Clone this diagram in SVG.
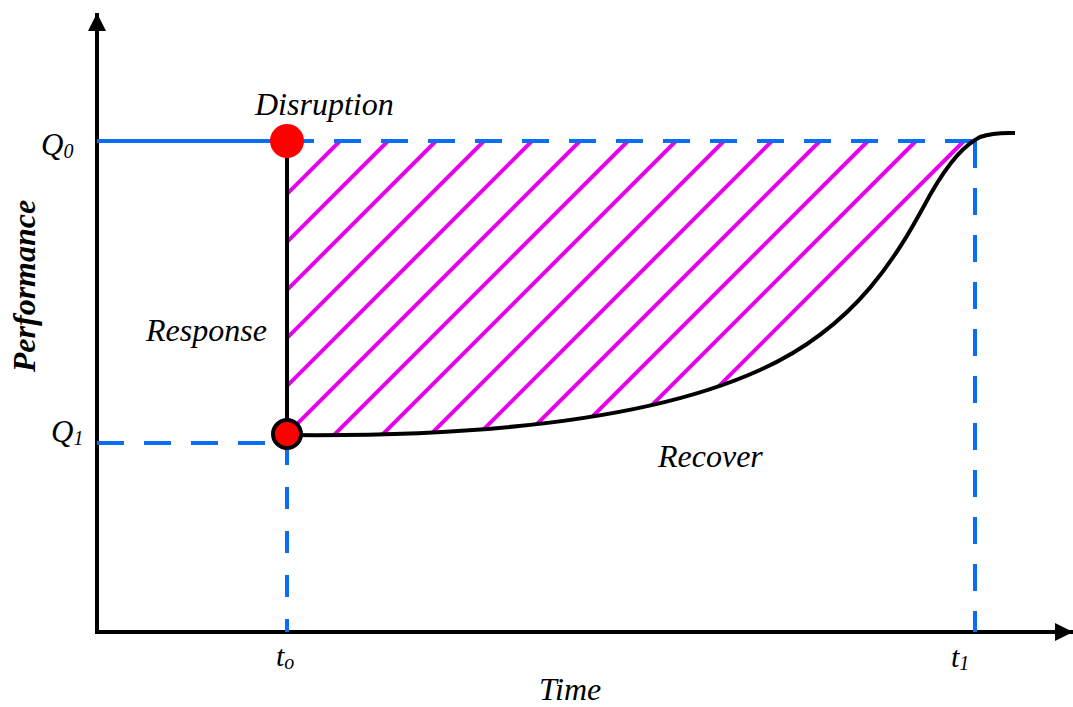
<svg xmlns="http://www.w3.org/2000/svg" width="1073" height="707" viewBox="0 0 1073 707">
<style>
.lbl{font-family:"Liberation Serif","Times New Roman",serif;font-style:italic;fill:#000}
.axis{stroke:#000;stroke-width:4;fill:none}
.dash{stroke:#0a6ef2;stroke-width:4;fill:none;stroke-dasharray:27 20}
.hatch{stroke:#e600ec;stroke-width:4;fill:none}
.curve{stroke:#000;stroke-width:4;fill:none}
</style>
<defs>
<marker id="arr" viewBox="0 0 10 10" refX="10" refY="5" markerWidth="4.5" markerHeight="4.5" markerUnits="strokeWidth" orient="auto">
<path d="M0,0 L10,5 L0,10 Z" fill="#000"/>
</marker>
<clipPath id="region">
<path d="M287,435 C480,437 650,420 760,370 C860,325 900,250 930,195 C950,160 965,145 980,137 L1015,141 L287,141 Z"/>
</clipPath>
</defs>
<g id="axes">
<line class="axis" x1="97" y1="634" x2="97" y2="13" marker-end="url(#arr)"/>
<line class="axis" x1="95" y1="632" x2="1073" y2="632" marker-end="url(#arr)"/>
</g>
<g id="hatch" clip-path="url(#region)">
<path class="hatch" d="M340,141 l-400,400 M388,141 l-400,400 M436,141 l-400,400 M484,141 l-400,400 M532,141 l-400,400 M580,141 l-400,400 M628,141 l-400,400 M676,141 l-400,400 M724,141 l-400,400 M772,141 l-400,400 M820,141 l-400,400 M868,141 l-400,400 M916,141 l-400,400 M964,141 l-400,400"/>
</g>
<g id="connectors">
<line x1="97" y1="141" x2="287" y2="141" stroke="#0a6ef2" stroke-width="4"/>
<line class="dash" x1="287" y1="141" x2="975" y2="141"/>
<line class="dash" x1="975" y1="141" x2="975" y2="632"/>
<line class="dash" x1="97" y1="443" x2="287" y2="443"/>
<line class="dash" x1="287" y1="443" x2="287" y2="632" style="stroke-dasharray:22 22"/>
<line class="axis" x1="287" y1="141" x2="287" y2="435"/>
<path id="recover-curve" class="curve" d="M287,435 C480,437 650,420 760,370 C860,325 900,250 930,195 C950,160 965,145 980,137 C995,132 1005,133 1015,133"/>
</g>
<g id="disruption">
<circle cx="287" cy="141" r="17" fill="#ff0000"/>
<text class="lbl" x="255" y="115" font-size="32">Disruption</text>
</g>
<g id="q1point">
<circle cx="287" cy="434" r="14" fill="#ff0000" stroke="#000" stroke-width="4"/>
</g>
<g id="labels">
<text class="lbl" x="41" y="155" font-size="31">Q<tspan font-size="20" dy="3">0</tspan></text>
<text class="lbl" x="51" y="442" font-size="31">Q<tspan font-size="20" dy="3">1</tspan></text>
<text class="lbl" x="146" y="341" font-size="32">Response</text>
<text class="lbl" x="658" y="467" font-size="32">Recover</text>
<text class="lbl" x="539" y="700" font-size="32">Time</text>
<text class="lbl" x="276" y="666" font-size="30">t<tspan font-size="20" dy="3">o</tspan></text>
<text class="lbl" x="951" y="667" font-size="30">t<tspan font-size="20" dy="3">1</tspan></text>
<text class="lbl" transform="translate(35,286) rotate(-90)" text-anchor="middle" font-size="32" font-weight="bold">Performance</text>
</g>
</svg>
